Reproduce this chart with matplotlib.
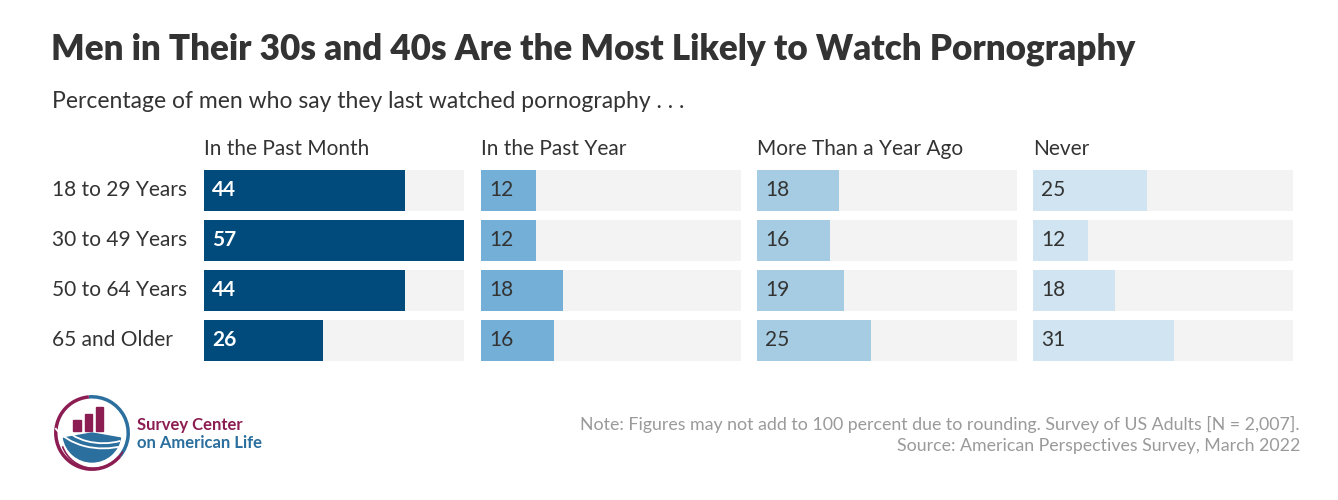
import numpy as np
import matplotlib.pyplot as plt
from matplotlib.patches import Arc, Rectangle, Wedge

# data
age_groups = ['18 to 29 Years', '30 to 49 Years', '50 to 64 Years', '65 and Older']
panels = ['In the Past Month', 'In the Past Year', 'More Than a Year Ago', 'Never']
past_month = [44, 57, 44, 26]
past_year = [12, 12, 18, 16]
more_than_year = [18, 16, 19, 25]
never = [25, 12, 18, 31]

series = [past_month, past_year, more_than_year, never]
colors = ['#004a7c', '#74afd8', '#a5cce2', '#d0e5f1']
txt_colors = ['white', '#333333', '#333333', '#333333']
xmax = 57

plt.rcParams['font.family'] = ['Lato', 'DejaVu Sans']

W, H = 1338, 500
fig = plt.figure(figsize=(W / 100, H / 100), dpi=100)
fig.patch.set_facecolor('white')

def px(x, y):
    return x / W, 1 - y / H

# titles
fig.text(*px(51, 49), 'Men in Their 30s and 40s Are the Most Likely to Watch Pornography',
         fontsize=25.2, fontweight='heavy', color='#333333', va='center', ha='left')
fig.text(*px(52, 101), 'Percentage of men who say they last watched pornography . . .',
         fontsize=16.5, color='#333333', va='center', ha='left')

top, bottom = 170, 361
lefts = [204, 481, 757, 1033]
pw = 260
y = np.arange(len(age_groups))

for i, (vals, name) in enumerate(zip(series, panels)):
    l, b = px(lefts[i], bottom)
    ax = fig.add_axes([l, b, pw / W, (bottom - top) / H])
    ax.barh(y, [xmax] * len(y), height=0.82, color='#f3f3f3')
    ax.barh(y, vals, height=0.82, color=colors[i])
    for yy, v in zip(y, vals):
        ax.annotate(str(v), (0, yy), xytext=(8, 0), textcoords='offset pixels',
                    va='center', ha='left', fontsize=15, color=txt_colors[i],
                    fontweight='bold' if i == 0 else 'normal')
    ax.set_xlim(0, xmax)
    ax.set_ylim(len(y) - 1 + 0.41, -0.41)
    ax.axis('off')
    fig.text(*px(lefts[i], 149), name, fontsize=15, color='#333333', va='center', ha='left')

for j, lab in enumerate(age_groups):
    fig.text(*px(52, 190 + j * 50), lab, fontsize=15, color='#333333', va='center', ha='left')

# notes
fig.text(*px(1300, 424), 'Note: Figures may not add to 100 percent due to rounding. Survey of US Adults [N = 2,007].',
         fontsize=12.8, color='#9a9a9a', ha='right', va='center')
fig.text(*px(1300, 446), 'Source: American Perspectives Survey, March 2022',
         fontsize=12.8, color='#9a9a9a', ha='right', va='center')

# logo
magenta = '#8c1d52'
blue = '#2b6f9e'
lx, ly = px(53, 472)
lax = fig.add_axes([lx, ly, 78 / W, 78 / H])
lax.set_xlim(-1.05, 1.05)
lax.set_ylim(-1.05, 1.05)
lax.set_aspect('equal')
lax.axis('off')
lax.add_patch(Arc((0, 0), 1.95, 1.95, theta1=-40, theta2=95, color=blue, lw=2.5))
lax.add_patch(Arc((0, 0), 1.95, 1.95, theta1=95, theta2=320, color=magenta, lw=2.5))
lax.add_patch(Arc((0.05, -0.05), 1.8, 1.8, theta1=200, theta2=330, color=magenta, lw=1.2))
for bx, bh in zip([-0.5, -0.2, 0.1], [0.3, 0.45, 0.65]):
    lax.add_patch(Rectangle((bx, 0.05), 0.2, bh, color=magenta))
lax.add_patch(Wedge((0, 0), 0.78, 190, 350, color=blue))
for r in [0.35, 0.55]:
    lax.add_patch(Arc((0.3, 0.6), 2 * (0.9 + r), 2 * (0.9 + r) * 0.7, theta1=200, theta2=300,
                      color='white', lw=1.3))
fig.text(*px(137, 425), 'Survey Center', fontsize=12, fontweight='bold', color=magenta,
         va='center', ha='left')
fig.text(*px(137, 443), 'on American Life', fontsize=12, fontweight='bold', color=blue,
         va='center', ha='left')

fig.savefig('out.png', dpi=100)
